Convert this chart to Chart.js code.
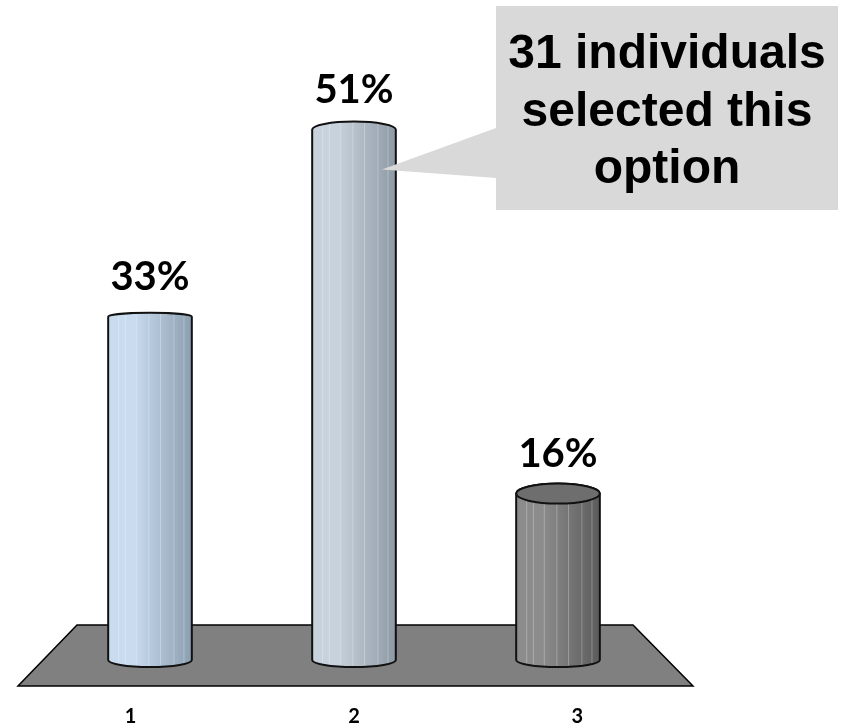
<!DOCTYPE html>
<html>
<head>
<meta charset="utf-8">
<script src="https://cdn.jsdelivr.net/npm/chart.js@4.4.0/dist/chart.umd.min.js"></script>
<style>
  html, body { margin: 0; background: #fff; }
  #wrap { width: 843px; height: 728px; }
</style>
</head>
<body>
<div id="wrap"><canvas id="myChart"></canvas></div>
<script>
const categories = ['1', '2', '3'];
const shares = [33, 51, 16];
const shareLabels = ['33%', '51%', '16%'];
const calloutLines = ['31 individuals', 'selected this', 'option'];
const highlighted = 1; // the callout points at option 2

// cylinder colours: light side, dark side, top face
const cylColors = [
  { light: '#c9dcef', dark: '#8b9fb1', cap: '#b3c7da', capH: 4 },
  { light: '#c8d2dd', dark: '#8d99a4', cap: '#b5c0cb', capH: 8 },
  { light: '#8c8c8c', dark: '#5c5c5c', cap: '#6e6e6e', capH: 10 }
];

function cylinderPath(ctx, x, top, base, w, capH) {
  const l = x - w / 2, r = x + w / 2;
  ctx.beginPath();
  ctx.moveTo(l, top);
  ctx.lineTo(l, base);
  ctx.ellipse(x, base, w / 2, 7, 0, Math.PI, 0, true);
  ctx.lineTo(r, top);
  ctx.ellipse(x, top, w / 2, capH, 0, 0, Math.PI, true);
  ctx.closePath();
}

const floorPlugin = {
  id: 'floor',
  beforeDatasetsDraw(chart) {
    const { ctx, chartArea: ca } = chart;
    ctx.save();
    ctx.beginPath();
    ctx.moveTo(ca.left + 29, ca.bottom - 35);
    ctx.lineTo(ca.right - 27, ca.bottom - 35);
    ctx.lineTo(ca.right + 33, ca.bottom + 26);
    ctx.lineTo(ca.left - 30, ca.bottom + 26);
    ctx.closePath();
    ctx.fillStyle = '#808080';
    ctx.fill();
    ctx.lineWidth = 1.5;
    ctx.strokeStyle = '#000';
    ctx.stroke();
    ctx.restore();
  }
};

const cylinderPlugin = {
  id: 'cylinders',
  afterDatasetsDraw(chart) {
    const { ctx, chartArea: ca } = chart;
    const meta = chart.getDatasetMeta(0);
    meta.data.forEach((bar, i) => {
      const { x, y, base, width } = bar.getProps(['x', 'y', 'base', 'width'], true);
      const c = cylColors[i];
      const l = x - width / 2;
      ctx.save();
      cylinderPath(ctx, x, y, base, width, c.capH);
      const g = ctx.createLinearGradient(l, 0, l + width, 0);
      g.addColorStop(0, c.light);
      g.addColorStop(0.3, c.light);
      g.addColorStop(1, c.dark);
      ctx.fillStyle = g;
      ctx.fill();
      // faint facet lines down the body
      ctx.save();
      ctx.clip();
      ctx.strokeStyle = 'rgba(255,255,255,0.28)';
      ctx.lineWidth = 1;
      [0.12, 0.2, 0.33, 0.48, 0.62, 0.78, 0.9].forEach(f => {
        ctx.beginPath();
        ctx.moveTo(l + f * width + 0.5, y - 12);
        ctx.lineTo(l + f * width + 0.5, base + 8);
        ctx.stroke();
      });
      ctx.restore();
      cylinderPath(ctx, x, y, base, width, c.capH);
      ctx.lineWidth = 2;
      ctx.strokeStyle = '#111';
      ctx.stroke();
      if (c.capH >= 10) {
        ctx.beginPath();
        ctx.ellipse(x, y, width / 2, c.capH, 0, 0, Math.PI * 2);
        ctx.fillStyle = c.cap;
        ctx.fill();
        ctx.stroke();
      }
      // value above the cylinder
      ctx.fillStyle = '#000';
      ctx.font = 'bold 40px Lato';
      ctx.textAlign = 'center';
      ctx.textBaseline = 'middle';
      ctx.fillText(shareLabels[i], x, y - 40);
      // category label, spread slightly by the floor's perspective
      const mid = (ca.left + ca.right) / 2;
      ctx.font = 'bold 20px Lato';
      ctx.fillText(categories[i], mid + (x - mid) * 1.095, ca.bottom + 57);
      ctx.restore();
    });
  }
};

const calloutPlugin = {
  id: 'callout',
  afterDraw(chart) {
    const { ctx } = chart;
    const bar = chart.getDatasetMeta(0).data[highlighted];
    const { x, y, width } = bar.getProps(['x', 'y', 'width'], true);
    const bx = 496, by = 6, bw = 342, bh = 204;
    ctx.save();
    ctx.beginPath();
    ctx.moveTo(bx, by);
    ctx.lineTo(bx + bw, by);
    ctx.lineTo(bx + bw, by + bh);
    ctx.lineTo(bx, by + bh);
    ctx.lineTo(bx, 178);
    ctx.lineTo(x + width / 2 - 14, y + 40);
    ctx.lineTo(bx, 128);
    ctx.closePath();
    ctx.fillStyle = '#d9d9d9';
    ctx.fill();
    ctx.fillStyle = '#000';
    ctx.font = 'bold 48px "Liberation Sans", Arial, sans-serif';
    ctx.textAlign = 'center';
    ctx.textBaseline = 'alphabetic';
    [68, 126, 183].forEach((ty, k) => ctx.fillText(calloutLines[k], bx + bw / 2, ty));
    ctx.restore();
  }
};

const ctx = document.getElementById('myChart').getContext('2d');
new Chart(ctx, {
  type: 'bar',
  data: {
    labels: categories,
    datasets: [{
      data: shares,
      backgroundColor: cylColors.map(c => c.light),
      borderWidth: 0,
      barPercentage: 0.41,
      categoryPercentage: 1
    }]
  },
  options: {
    responsive: true,
    maintainAspectRatio: false,
    animation: false,
    layout: { padding: { left: 48, right: 183, top: 36, bottom: 68 } },
    scales: {
      x: { display: false },
      y: { display: false, min: 0, max: 60 }
    },
    plugins: {
      legend: { display: false },
      tooltip: { enabled: false }
    }
  },
  plugins: [floorPlugin, cylinderPlugin, calloutPlugin]
});
</script>
</body>
</html>
